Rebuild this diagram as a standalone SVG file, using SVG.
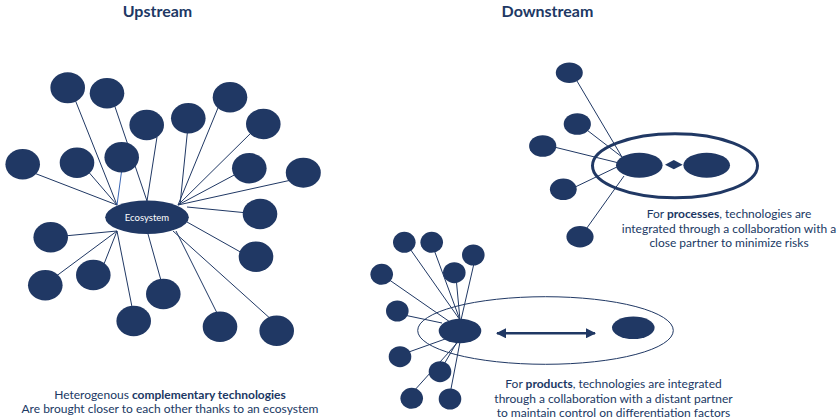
<svg xmlns="http://www.w3.org/2000/svg" width="838" height="420" viewBox="0 0 838 420">
<style>
.n{fill:#203864}
.c line{stroke:#203864;stroke-width:1}
.t{font-family:Lato,"Liberation Sans",sans-serif;fill:#203864;text-anchor:middle;font-size:12px}
.h{font-family:Lato,"Liberation Sans",sans-serif;fill:#203864;text-anchor:middle;font-size:16px;font-weight:bold}
.b{font-weight:bold}
</style>
<defs>
<marker id="ah" viewBox="0 0 10 10" refX="9" refY="5" markerWidth="4" markerHeight="4" orient="auto-start-reverse" markerUnits="strokeWidth">
<path d="M0,0L10,5L0,10z" fill="#203864"/>
</marker>
</defs>
<rect width="838" height="420" fill="#ffffff"/>
<text class="h" x="157.5" y="17">Upstream</text>
<text class="h" x="547.5" y="17">Downstream</text>

<g id="connectors" class="c">
<line x1="72" y1="92" x2="117" y2="205"/>
<line x1="112" y1="98" x2="147" y2="201"/>
<line x1="157" y1="137" x2="147" y2="201"/>
<line x1="187.5" y1="131" x2="180" y2="205"/>
<line x1="220" y1="103" x2="178" y2="205"/>
<line x1="254" y1="130" x2="178" y2="205"/>
<line x1="34" y1="173" x2="117" y2="205"/>
<line x1="86" y1="169" x2="117" y2="205"/>
<line x1="122" y1="168" x2="117" y2="205" style="stroke:#3a66b5"/>
<line x1="238" y1="173" x2="178" y2="205"/>
<line x1="296" y1="179" x2="178" y2="205"/>
<line x1="248" y1="213" x2="187" y2="207"/>
<line x1="64" y1="236" x2="117" y2="231"/>
<line x1="244" y1="254" x2="187" y2="222"/>
<line x1="55" y1="277" x2="117" y2="231"/>
<line x1="102" y1="269" x2="117" y2="231"/>
<line x1="162" y1="284" x2="148" y2="234"/>
<line x1="133" y1="312" x2="117" y2="231"/>
<line x1="219" y1="317" x2="176" y2="231"/>
<line x1="273" y1="321" x2="173" y2="231"/>

<line x1="574" y1="76" x2="622" y2="157"/>
<line x1="583" y1="127" x2="622" y2="157"/>
<line x1="550" y1="146" x2="619" y2="163"/>
<line x1="571" y1="189" x2="619" y2="166"/>
<line x1="584" y1="232" x2="624" y2="176"/>

<line x1="408" y1="246" x2="460" y2="320"/>
<line x1="433" y1="247" x2="460" y2="320"/>
<line x1="475" y1="259" x2="461" y2="320"/>
<line x1="456" y1="277" x2="460" y2="320"/>
<line x1="388" y1="279" x2="450" y2="322"/>
<line x1="404" y1="315" x2="442" y2="323"/>
<line x1="406" y1="353" x2="448" y2="338"/>
<line x1="443" y1="366" x2="457" y2="342"/>
<line x1="413" y1="392" x2="458" y2="342"/>
<line x1="450" y1="394" x2="460" y2="342"/>
<line x1="497" y1="333.3" x2="595" y2="333.3" style="stroke-width:2.5" marker-start="url(#ah)" marker-end="url(#ah)"/>
</g>

<g id="left-nodes">
<ellipse class="n" cx="67.7" cy="87.7" rx="17.3" ry="15.5"/>
<ellipse class="n" cx="107" cy="93.3" rx="17.3" ry="15.2"/>
<ellipse class="n" cx="146.7" cy="125" rx="17.3" ry="15.2"/>
<ellipse class="n" cx="188.3" cy="118.3" rx="17.3" ry="15.2"/>
<ellipse class="n" cx="230" cy="97.3" rx="17.3" ry="15.2"/>
<ellipse class="n" cx="263.3" cy="124" rx="17.3" ry="15.2"/>
<ellipse class="n" cx="22.7" cy="164.3" rx="17.3" ry="15.2"/>
<ellipse class="n" cx="77" cy="162.7" rx="17.3" ry="15.2"/>
<ellipse class="n" cx="121.7" cy="157.3" rx="17.3" ry="15.2"/>
<ellipse class="n" cx="249.3" cy="168.3" rx="17.3" ry="15.2"/>
<ellipse class="n" cx="303.3" cy="172.7" rx="17.5" ry="15"/>
<ellipse class="n" cx="260" cy="214" rx="17.3" ry="15.2"/>
<ellipse class="n" cx="50.7" cy="237.3" rx="17.3" ry="15.2"/>
<ellipse class="n" cx="256" cy="256.7" rx="17.3" ry="15.2"/>
<ellipse class="n" cx="45.3" cy="285.3" rx="17.3" ry="15.2"/>
<ellipse class="n" cx="93.3" cy="275" rx="17.3" ry="15.2"/>
<ellipse class="n" cx="163.3" cy="294" rx="17.3" ry="15.2"/>
<ellipse class="n" cx="133.7" cy="321" rx="17.3" ry="15.2"/>
<ellipse class="n" cx="220" cy="326.7" rx="17.3" ry="15.2"/>
<ellipse class="n" cx="276.7" cy="330.7" rx="17.3" ry="15.2"/>
</g>
<g id="ecosystem">
<ellipse class="n" cx="147" cy="217.3" rx="41.8" ry="16.7"/>
<text x="147" y="220.5" style="font-family:Lato,'Liberation Sans',sans-serif;font-size:9.5px;fill:#ffffff;text-anchor:middle">Ecosystem</text>
</g>
<g id="upstream-caption">
<text class="t" x="170" y="398.5">Heterogenous <tspan class="b">complementary technologies</tspan></text>
<text class="t" x="170" y="412.5">Are brought closer to each other thanks to an ecosystem</text>
</g>

<g id="process-partners">
<ellipse class="n" cx="569.3" cy="72.7" rx="13.5" ry="10.2"/>
<ellipse class="n" cx="577.3" cy="124" rx="13.6" ry="10.8"/>
<ellipse class="n" cx="542.7" cy="146" rx="13.6" ry="10.8"/>
<ellipse class="n" cx="563.3" cy="189.3" rx="13.4" ry="10.8"/>
<ellipse class="n" cx="580" cy="236.7" rx="13.6" ry="10.7"/>
</g>
<g id="process-collaboration">
<ellipse cx="675" cy="165.8" rx="82.5" ry="32" fill="none" stroke="#203864" stroke-width="3"/>
<ellipse class="n" cx="639.3" cy="165.2" rx="23.3" ry="12.5"/>
<ellipse class="n" cx="706.7" cy="165.2" rx="23.3" ry="12.5"/>
<polygon class="n" points="665,164.7 673.8,160 682.7,164.7 673.8,169.3"/>
</g>
<g id="process-caption">
<text class="t" x="729" y="218">For <tspan class="b">processes</tspan>, technologies are</text>
<text class="t" x="729" y="232.5">integrated through a collaboration with a</text>
<text class="t" x="729" y="247">close partner to minimize risks</text>
</g>

<g id="product-partners">
<ellipse class="n" cx="404.3" cy="242.3" rx="11.3" ry="10.5"/>
<ellipse class="n" cx="431.7" cy="242.3" rx="11.3" ry="10.5"/>
<ellipse class="n" cx="473.3" cy="255" rx="11.3" ry="10.5"/>
<ellipse class="n" cx="454.3" cy="272.7" rx="11.3" ry="10.5"/>
<ellipse class="n" cx="381.7" cy="274.3" rx="11.3" ry="10.5"/>
<ellipse class="n" cx="397.3" cy="311" rx="11.3" ry="10.5"/>
<ellipse class="n" cx="400" cy="356.7" rx="11.3" ry="10.5"/>
<ellipse class="n" cx="440" cy="371.7" rx="11.3" ry="10.5"/>
<ellipse class="n" cx="411.7" cy="398.3" rx="11.3" ry="10.5"/>
<ellipse class="n" cx="450" cy="399" rx="11.3" ry="10.5"/>
</g>
<g id="product-collaboration">
<ellipse cx="545.5" cy="330.5" rx="127.8" ry="33.8" fill="none" stroke="#203864" stroke-width="1"/>
<ellipse class="n" cx="460" cy="331" rx="21.3" ry="12.2"/>
<ellipse class="n" cx="633.3" cy="327.7" rx="21.3" ry="11.3"/>
</g>
<g id="product-caption">
<text class="t" x="613.5" y="388">For <tspan class="b">products</tspan>, technologies are integrated</text>
<text class="t" x="613.5" y="402.5">through a collaboration with a distant partner</text>
<text class="t" x="613.5" y="416.5">to maintain control on differentiation factors</text>
</g>
</svg>
